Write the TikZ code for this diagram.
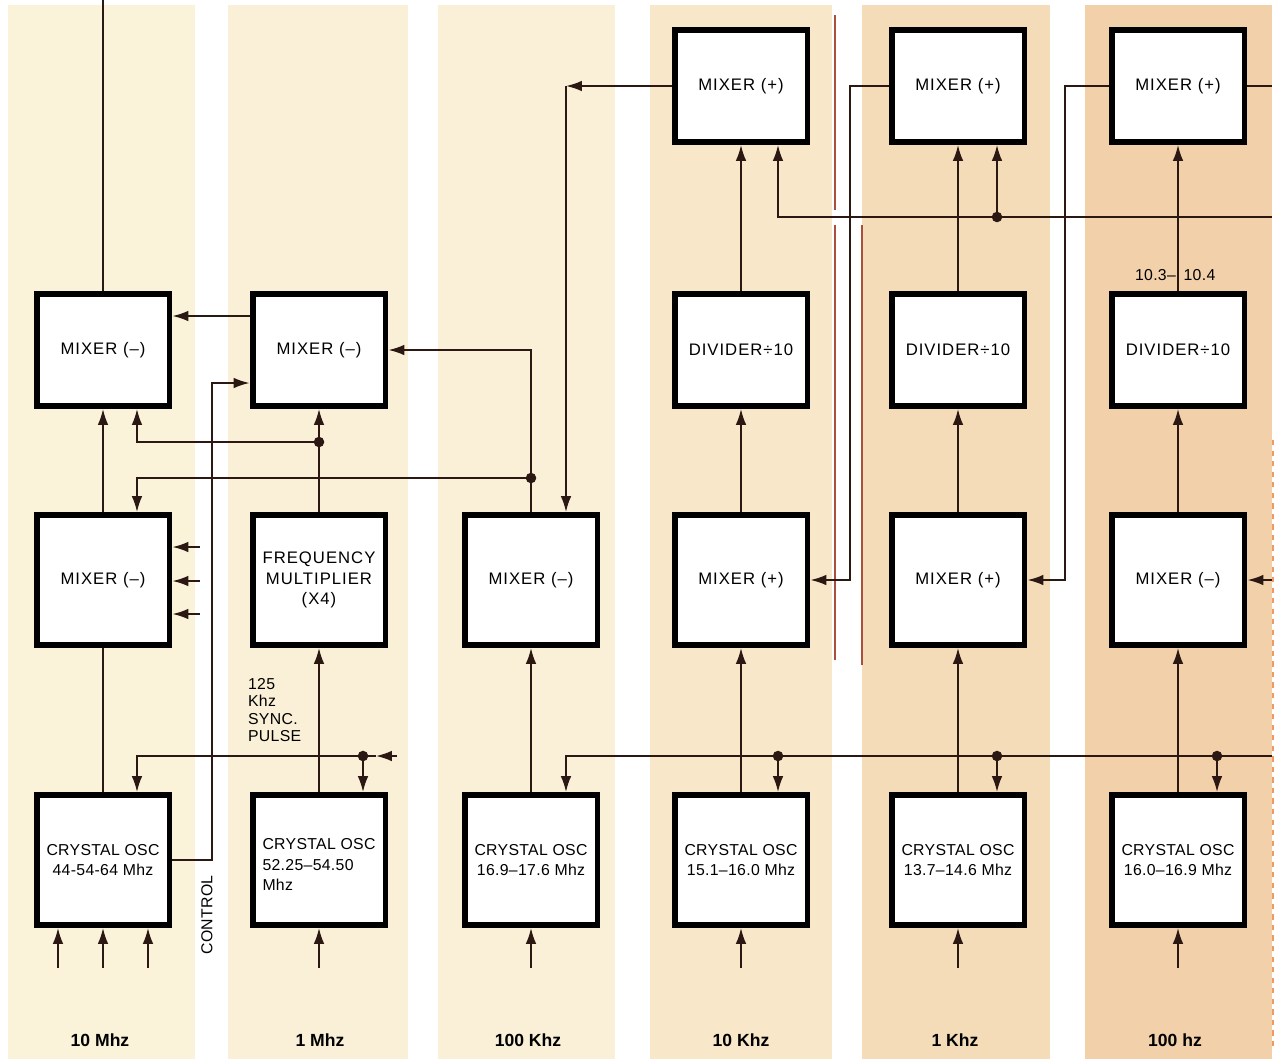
\documentclass[tikz,border=0pt]{standalone}
\usepackage{fontspec}
\setmainfont{Liberation Sans}
\newfontfamily\blockfont{Liberation Sans}[LetterSpace=6]
\newfontfamily\oscfont{Liberation Sans}[LetterSpace=2]
\usepackage{xcolor}
\definecolor{BandA}{HTML}{FBF2DA}
\definecolor{BandB}{HTML}{FAF0D7}
\definecolor{BandC}{HTML}{F8E7C8}
\definecolor{BandD}{HTML}{F5DCB9}
\definecolor{BandE}{HTML}{F2D0AA}
\definecolor{InkBrown}{HTML}{2B1812}
\definecolor{RegRed}{HTML}{A8503C}
\definecolor{EdgeOrange}{HTML}{EE9A60}
\usepackage{tikz}
\usetikzlibrary{arrows.meta, calc}

\begin{document}
\begin{tikzpicture}[
    x=0.02cm, y=-0.02cm,
    sig_line/.style={InkBrown, line width=1pt},
    sig_arrow/.style={sig_line, -{Latex[length=9pt, width=6pt]}},
    blk/.style={draw=black, line width=3.4pt, fill=white, minimum width=2.66cm, align=center,
        inner sep=1pt, font=\fontsize{9.5}{11.5}\selectfont\blockfont},
    box_short/.style={blk, minimum height=2.24cm},
    box_tall/.style={blk, minimum height=2.6cm},
    box_osc/.style={box_tall, font=\fontsize{9}{11.5}\selectfont\oscfont},
    band_label/.style={font=\fontsize{10}{12}\selectfont\bfseries},
    note_label/.style={font=\fontsize{9}{10}\selectfont\oscfont, inner sep=1pt}
]
    \useasboundingbox (0,0) rectangle (1277,1059);

    % 1. DECADE BANDS
    \fill[BandA] (8,5) rectangle (195,1059);
    \fill[BandB] (228,5) rectangle (408,1059);
    \fill[BandB] (438,5) rectangle (615,1059);
    \fill[BandC] (650,5) rectangle (832,1059);
    \fill[BandD] (862,5) rectangle (1050,1059);
    \fill[BandE] (1085,5) rectangle (1272,1059);
    \draw[RegRed, line width=0.6pt] (835,15) -- (835,210) (835,225) -- (835,660) (862,225) -- (862,665);
    \draw[EdgeOrange, line width=1pt, dashed] (1273,440) -- (1273,1050);

    % 2. BLOCKS
    \node[box_short] (sum_tk) at (741,86) {MIXER\ (+)};
    \node[box_short] (sum_ok) at (958,86) {MIXER (+)};
    \node[box_short] (sum_hh) at (1178,86) {MIXER (+)};

    \node[box_short] (mixhi_ten) at (103,350) {MIXER (–)};
    \node[box_short] (mixhi_one) at (319,350) {MIXER (–)};
    \node[box_short] (div_tk) at (741,350) {DIVIDER÷10};
    \node[box_short] (div_ok) at (958,350) {DIVIDER÷10};
    \node[box_short] (div_hh) at (1178,350) {DIVIDER÷10};

    \node[box_tall] (mix_ten) at (103,580) {MIXER (–)};
    \node[box_tall] (mult_one) at (319,580) {FREQUENCY\\MULTIPLIER\\(X4)};
    \node[box_tall] (mix_hk) at (531,580) {MIXER (–)};
    \node[box_tall] (mix_tk) at (741,580) {MIXER\ (+)};
    \node[box_tall] (mix_ok) at (958,580) {MIXER\ (+)};
    \node[box_tall] (mix_hh) at (1178,580) {MIXER (–)};

    \node[box_osc] (osc_ten) at (103,860) {CRYSTAL OSC\\44-54-64 Mhz};
    \node[box_osc, align=left] (osc_one) at (319,860) {\mbox{}\\CRYSTAL OSC\\52.25–54.50\\Mhz};
    \node[box_osc] (osc_hk) at (531,860) {CRYSTAL OSC\\16.9–17.6 Mhz};
    \node[box_osc] (osc_tk) at (741,860) {CRYSTAL OSC\\15.1–16.0 Mhz};
    \node[box_osc] (osc_ok) at (958,860) {CRYSTAL OSC\\13.7–14.6 Mhz};
    \node[box_osc] (osc_hh) at (1178,860) {CRYSTAL OSC\\16.0–16.9 Mhz};

    % 3. 10 MHZ / 1 MHZ PATH
    \coordinate (out_top) at (103,0);
    \draw[sig_line] (mixhi_ten.north) -- (out_top);
    \draw[sig_arrow] ([yshift=0.68cm]mixhi_one.west) -- ([yshift=0.68cm]mixhi_ten.east);
    \draw[sig_arrow] (mix_ten.north) -- (mixhi_ten.south);
    \draw[sig_line] (osc_ten.north) -- (mix_ten.south);
    \draw[sig_arrow] (mult_one.north) -- (mixhi_one.south);
    \draw[sig_arrow] (osc_one.north) -- (mult_one.south);

    \coordinate (tap_mult) at (319,442);
    \draw[sig_arrow] (tap_mult) -| ([xshift=0.68cm]mixhi_ten.south);
    \coordinate (tap_hk) at (531,478);
    \draw[sig_arrow] (mix_hk.north) -- (tap_hk) |- (mixhi_one.east);
    \draw[sig_arrow] (tap_hk) -| ([xshift=0.68cm]mix_ten.north);
    \fill[InkBrown] (tap_mult) circle (3pt) (tap_hk) circle (3pt);

    \foreach \y [count=\i] in {547,581,614} {
        \coordinate (aux\i) at (200,\y);
        \draw[sig_arrow] (aux\i) -- (aux\i -| mix_ten.east);
    }

    % control loop
    \coordinate (ctl_turn) at (212,383);
    \draw[sig_arrow] (osc_ten.east) -| (ctl_turn) -- (ctl_turn -| mixhi_one.west);
    \node[note_label, rotate=90] (ctl_lbl) at (207,915) {CONTROL};

    % sync pulse
    \coordinate (sync_in) at (397,756);
    \coordinate (sync_tip) at (376,756);
    \coordinate (sync_node) at (363,756);
    \draw[sig_arrow] (sync_in) -- (sync_tip);
    \draw[sig_line] (sync_tip) -- (sync_node);
    \draw[sig_arrow] (sync_node) -| ([xshift=0.68cm]osc_ten.north);
    \draw[sig_arrow] (sync_node) -- (sync_node |- osc_one.north);
    \fill[InkBrown] (sync_node) circle (3pt);
    \node[note_label, align=left, anchor=north west] (sync_lbl) at (246,676) {125\\Khz\\SYNC.\\PULSE};

    % crystal inputs
    \foreach \b/\dx in {osc_ten/-0.9cm, osc_ten/0cm, osc_ten/0.9cm, osc_one/0cm, osc_hk/0cm, osc_tk/0cm, osc_ok/0cm, osc_hh/0cm} {
        \draw[sig_arrow] ([xshift=\dx, yshift=-0.8cm]\b.south) -- ([xshift=\dx]\b.south);
    }

    % 4. 100 KHZ PATH
    \draw[sig_arrow] (osc_hk.north) -- (mix_hk.south);
    \coordinate (fb_hk) at (566,86);
    \draw[sig_arrow] (sum_tk.west) -- (fb_hk);
    \draw[sig_arrow] (fb_hk) -- (fb_hk |- mix_hk.north);

    % 5. 10 KHZ / 1 KHZ / 100 HZ PATHS
    \foreach \c in {tk, ok, hh} {
        \draw[sig_arrow] (osc_\c.north) -- (mix_\c.south);
        \draw[sig_arrow] (mix_\c.north) -- (div_\c.south);
        \draw[sig_arrow] (div_\c.north) -- (sum_\c.south);
    }
    \coordinate (fb_tk) at (850,86);
    \draw[sig_arrow] (sum_ok.west) -- (fb_tk) |- (mix_tk.east);
    \coordinate (fb_ok) at (1065,86);
    \draw[sig_arrow] (sum_hh.west) -- (fb_ok) |- (mix_ok.east);
    \coordinate (out_hh) at (1272,86);
    \draw[sig_line] (sum_hh.east) -- (out_hh);
    \coordinate (in_hh) at (1272,580);
    \draw[sig_arrow] (in_hh) -- (mix_hh.east);

    % carry bus
    \coordinate (bus_in) at (1272,217);
    \coordinate (bus_ok) at (997,217);
    \draw[sig_arrow] (bus_in) -| ([xshift=0.74cm]sum_tk.south);
    \draw[sig_arrow] (bus_ok) -- (bus_ok |- sum_ok.south);
    \fill[InkBrown] (bus_ok) circle (3pt);

    % clock bus
    \coordinate (clk_in) at (1272,756);
    \draw[sig_arrow] (clk_in) -| ([xshift=0.7cm]osc_hk.north);
    \foreach \c/\x in {tk/778, ok/997, hh/1217} {
        \coordinate (clk_\c) at (\x,756);
        \draw[sig_arrow] (clk_\c) -- (clk_\c |- osc_\c.north);
        \fill[InkBrown] (clk_\c) circle (3pt);
    }

    \node[note_label, anchor=east] (rng_lo) at (1178,275) {10.3–};
    \node[note_label, anchor=west, inner sep=3pt] (rng_hi) at (1178,275) {10.4};

    % 6. BAND LABELS
    \node[band_label] (band_ten) at (100,1040) {10 Mhz};
    \node[band_label] (band_one) at (320,1040) {1 Mhz};
    \node[band_label] (band_hk) at (528,1040) {100 Khz};
    \node[band_label] (band_tk) at (741,1040) {10 Khz};
    \node[band_label] (band_ok) at (955,1040) {1 Khz};
    \node[band_label] (band_hh) at (1175,1040) {100 hz};

\end{tikzpicture}
\end{document}
